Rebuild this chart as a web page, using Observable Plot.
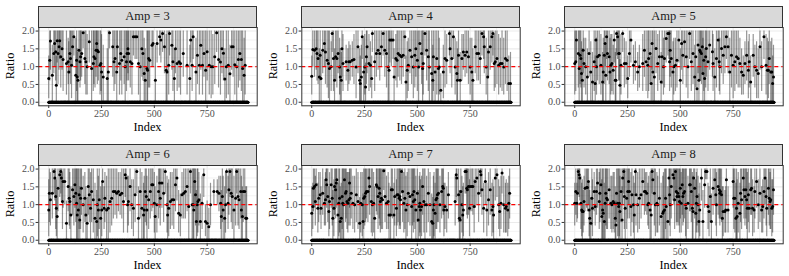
<!DOCTYPE html>
<html><head><meta charset="utf-8">
<script src="https://cdn.jsdelivr.net/npm/d3@7"></script>
<script src="https://cdn.jsdelivr.net/npm/@observablehq/plot@0.6"></script>
<style>
body{margin:0;background:#fff}
#wrap{position:relative;width:789px;height:276px;font-family:"Liberation Serif",serif;background:#fff;overflow:hidden}
.cell{position:absolute;width:263px;height:138px}
.cell svg{position:absolute;left:0;top:0}
.strip{position:absolute;left:38.3px;top:6px;width:218.4px;height:21.5px;background:#d9d9d9;border:1px solid #333;box-sizing:border-box;text-align:center;font-size:12.5px;line-height:19.5px;color:#1a1a1a}
.xt{position:absolute;left:0;width:263px;padding-left:38px;padding-right:6px;box-sizing:border-box;top:120px;text-align:center;font-size:12.3px;color:#000}
.yt{position:absolute;left:4px;top:66px;font-size:12.3px;color:#000;transform:translate(-50%,-50%) rotate(-90deg);transform-origin:center;margin-left:6px;white-space:nowrap}
</style></head>
<body><div id="wrap"></div>
<script>
// ---- data: [index, ratio, lower, upper] for non-zero ratios; every other index has ratio 0
const ampLevels = [3,4,5,6,7,8];
const lastIndex = 943;
const xTicks = [0,250,500,750];
const xMinor = [125,375,625,875];
const yTicks = [0,0.5,1,1.5,2];
const yMinor = [0.25,0.75,1.25,1.75];
const refRatio = 1;

const amp3 = [[0,0.67,0.1,1.3],[5,1.18,0.6,2],[8,1.72,0.9,2],[17,0.76,0,1.6],[24,1.37,0.8,2],[28,1.65,1.0,2],[33,1.42,0.6,2],[36,0.48,0,1.3],[40,1.73,1.1,2],[44,1.37,0.5,2],[49,1.56,0.9,2],[52,1.73,1.2,2],[57,1.28,0.4,2],[63,1.5,0.9,2],[68,1.2,0.3,2],[84,1.09,0.2,2],[92,1.14,0.5,1.8],[95,0.85,0,1.7],[100,1.37,0.8,2],[103,1.23,0.5,2],[108,1.04,0.1,2],[113,1.56,1.0,2],[119,1.84,1.3,2],[128,0.76,0,1.8],[132,1.18,0.3,2],[135,0.71,0,1.5],[138,0.62,0,1.4],[143,1.46,0.7,2],[148,1.14,0.4,2],[151,1.28,0.6,2],[156,1.37,0.7,2],[163,1.95,1.5,2],[171,1.23,0.5,2],[176,1.14,0.2,2],[182,1.0,0.2,1.9],[192,1.7,1.1,2],[203,0.95,0,2],[211,1.09,0.3,2],[214,1.28,0.5,2],[219,1.23,0.4,2],[224,1.46,0.7,2],[227,1.65,1.0,2],[230,1.46,0.5,2],[235,1.42,0.6,2],[243,1.04,0.2,2],[247,1.09,0.3,2],[250,0.85,0,1.9],[258,0.71,0,1.6],[277,0.67,0,1.5],[282,0.85,0,2],[288,1.95,1.5,2],[303,1.56,0.7,2],[309,1.14,0.3,2],[314,1.23,0.5,2],[322,0.85,0,2],[325,1.56,0.9,2],[335,1.09,0.2,2],[341,1.37,0.6,2],[346,1.18,0.2,2],[357,1.28,0.5,2],[362,1.0,0,2],[368,1.14,0.3,2],[371,1.37,0.6,2],[375,1.5,0.8,2],[378,1.37,0.6,2],[386,1.14,0.4,2],[394,1.09,0.2,2],[401,1.84,1.3,2],[409,1.84,1.2,2],[417,1.84,1.2,2],[425,1.09,0.2,2],[433,1.0,0,2],[441,1.5,0.7,2],[446,1.37,0.6,2],[452,0.81,0,1.8],[457,0.62,0,1.5],[465,0.95,0,2],[468,0.9,0,2],[473,1.23,0.4,2],[478,1.18,0.4,2],[489,1.6,1.0,2],[494,1.65,1.0,2],[505,0.62,0,1.6],[513,1.65,1.1,2],[525,1.84,1.3,2],[531,1.75,1.1,2],[539,1.93,1.4,2],[548,1.56,0.8,2],[556,0.9,0,1.9],[560,0.85,0,2],[568,1.04,0.2,2],[572,1.93,1.3,2],[583,1.6,0.9,2],[588,1.14,0.3,2],[595,0.67,0,1.5],[600,1.5,0.8,2],[608,1.09,0.3,2],[617,1.14,0.4,2],[624,1.09,0.2,2],[637,1.37,0.7,2],[655,1.04,0.2,2],[668,0.67,0,1.6],[672,1.75,1.1,2],[679,1.04,0.3,2],[684,1.84,1.2,2],[697,0.85,0,1.8],[704,1.32,0.5,2],[713,1.04,0.2,2],[720,1.6,0.9,2],[728,1.04,0.2,2],[735,1.37,0.7,2],[743,0.9,0,2],[750,1.42,0.6,2],[760,1.04,0.2,2],[769,1.0,0.1,2],[777,1.0,0.2,1.9],[786,1.28,0.5,2],[795,1.95,1.4,2],[804,1.2,0.4,2],[813,1.13,0.2,2],[820,1.5,0.8,2],[827,1.38,0.6,2],[834,0.65,0,1.5],[841,1.0,0.1,2],[850,1.04,0.2,2],[858,0.8,0,1.6],[866,1.56,0.9,2],[873,1.56,0.7,2],[881,1.05,0.2,2],[890,1.0,0,2],[898,1.2,0.4,2],[905,1.37,0.6,2],[912,1.2,0.3,2],[918,0.95,0,2],[925,0.76,0,1.8],[930,1.04,0.2,2]];

const amp4 = [[0,0.73,0.2,1.3],[5,1.48,1.0,2],[13,1.46,0.7,2],[21,1.5,0.9,2],[25,1.37,0.6,2],[30,1.23,0.5,2],[36,0.71,0,1.5],[40,1.32,0.6,2],[44,0.67,0,1.4],[52,1.46,0.8,2],[60,1.65,1.0,2],[65,1.41,0.5,2],[73,1.18,0.4,2],[79,1.09,0.1,2],[84,0.95,0,2],[92,1.0,0.3,1.7],[97,1.93,1.4,2],[103,1.23,0.3,2],[108,0.62,0,1.5],[113,1.28,0.6,2],[119,1.23,0.4,2],[125,1.37,0.8,2],[132,0.99,0.2,1.8],[135,0.71,0,1.5],[140,0.62,0,1.4],[143,1.5,0.7,2],[148,1.09,0.3,1.9],[163,1.14,0.6,1.6],[171,0.9,0.3,1.5],[176,1.14,0.5,1.7],[182,1.14,0.6,1.6],[192,1.18,0.7,1.7],[200,1.2,0.5,1.9],[210,0.99,0.1,2],[219,1.56,0.8,2],[227,0.62,0,1.5],[230,0.53,0,1.3],[235,0.71,0,1.6],[239,1.84,1.2,2],[246,0.85,0,1.8],[251,0.99,0.2,1.9],[255,0.43,0,1.1],[259,1.28,0.5,2],[262,1.56,0.8,2],[271,1.09,0.3,1.9],[278,1.04,0.4,1.7],[284,0.67,0.1,1.3],[287,1.93,1.4,2],[298,1.14,0.3,2],[306,1.37,0.7,2],[314,1.46,0.9,2],[322,1.37,0.6,2],[330,1.56,1.0,2],[338,1.93,1.3,2],[346,1.46,0.7,2],[354,1.37,0.4,2],[362,0.99,0,2],[366,0.9,0,2],[370,1.75,1.1,2],[377,1.75,1.0,2],[385,1.75,1.2,2],[390,0.71,0,1.5],[398,1.23,0.6,1.9],[404,1.18,0.4,2],[409,1.37,0.7,2],[417,1.32,0.6,2],[425,1.28,0.5,2],[433,1.32,0.7,2],[441,1.84,1.2,2],[446,0.57,0,1.3],[452,0.9,0.1,1.7],[457,1.04,0.3,1.8],[465,1.46,0.8,2],[473,1.28,0.5,2],[481,0.99,0.1,2],[488,1.32,0.4,2],[493,1.5,0.7,2],[500,1.18,0.3,2],[506,0.99,0,2],[512,1.65,1.0,2],[520,1.37,0.5,2],[525,0.95,0,2],[528,1.09,0.2,2],[536,1.93,1.3,2],[544,1.46,0.6,2],[552,1.28,0.3,2],[557,0.99,0,2],[568,0.81,0,2],[573,0.62,0,1.6],[576,1.28,0.3,2],[584,0.85,0,2],[592,1.23,0.2,2],[600,0.95,0,2],[604,0.99,0.2,1.8],[611,0.34,0,0.8],[623,0.85,0.1,1.6],[631,1.23,0.4,2],[639,1.18,0.5,1.9],[652,1.93,1.3,2],[655,1.5,0.8,2],[663,1.23,0.4,2],[671,1.84,1.2,2],[679,0.99,0.2,1.8],[687,0.81,0,1.7],[690,0.62,0,1.5],[695,1.32,0.6,2],[703,0.62,0,1.4],[711,1.23,0.6,1.9],[718,1.41,0.9,1.9],[726,1.32,0.7,2],[734,1.41,0.8,2],[742,1.28,0.5,2],[750,0.99,0.2,1.8],[758,0.85,0,1.8],[763,0.62,0,1.5],[774,1.56,0.8,2],[782,1.37,0.6,2],[790,1.37,0.6,2],[798,1.23,0.5,2],[806,1.93,1.3,2],[814,1.84,1.2,2],[817,1.56,0.8,2],[826,0.99,0.2,1.8],[833,0.71,0,1.5],[837,1.41,0.7,2],[845,1.56,0.9,2],[853,1.84,1.1,2],[858,1.93,1.3,2],[864,1.09,0.3,1.9],[869,1.14,0.4,2],[877,1.23,0.5,2],[885,1.04,0.2,1.9],[893,1.09,0.4,1.8],[901,1.09,0.3,2],[909,0.99,0.2,1.8],[917,1.23,0.5,2],[925,1.18,0.3,2],[933,0.53,0,1.3],[941,0.53,0,1.4]];

const amp5 = [[0,1.09,0.2,2],[5,1.14,0.3,2],[8,1.75,1.1,2],[17,1.37,0.4,2],[21,0.95,0,2],[25,1.32,0.5,2],[29,1.23,0.4,2],[32,0.81,0,1.7],[36,0.62,0,1.5],[40,1.46,0.8,2],[44,1.09,0.4,1.8],[52,1.0,0.2,1.8],[60,0.71,0,1.5],[68,1.37,0.7,2],[76,0.85,0,1.7],[84,0.57,0,1.4],[92,1.14,0.3,2],[97,0.53,0,1.3],[100,1.75,1.0,2],[103,1.0,0.2,1.8],[108,1.28,0.6,2],[116,1.32,0.5,2],[124,1.04,0.2,1.9],[132,0.57,0,1.4],[135,0.85,0,1.8],[140,1.32,0.5,2],[144,1.65,1.0,2],[147,0.76,0,1.6],[151,1.84,1.2,2],[155,1.37,0.6,2],[163,1.28,0.5,2],[167,0.85,0,1.8],[171,1.04,0.2,1.9],[176,1.09,0.3,1.9],[182,0.9,0.2,1.6],[187,1.75,1.1,2],[192,0.62,0,1.4],[195,0.62,0,1.5],[198,1.93,1.3,2],[203,1.84,1.2,2],[208,1.37,0.6,2],[211,1.37,0.6,2],[214,0.48,0,1.2],[219,1.04,0.2,1.9],[227,1.93,1.4,2],[235,1.09,0.4,1.8],[243,1.09,0.5,1.7],[251,0.67,0.1,1.3],[259,1.37,0.7,2],[266,1.75,1.1,2],[278,1.04,0.5,1.6],[287,1.14,0.6,1.7],[298,0.85,0.3,1.4],[306,1.0,0.4,1.6],[322,1.09,0.3,1.9],[330,1.46,0.7,2],[338,1.14,0.3,2],[346,1.04,0.1,2],[350,1.23,0.3,2],[357,1.37,0.5,2],[362,0.53,0,1.3],[366,1.65,0.9,2],[370,0.85,0,2],[377,0.71,0,2],[385,1.51,0.8,2],[393,1.09,0.3,1.9],[401,1.28,0.6,2],[409,0.57,0,1.4],[414,1.28,0.5,2],[420,1.0,0.2,1.8],[425,1.23,0.4,2],[433,1.79,1.1,2],[441,1.93,1.3,2],[446,1.93,1.2,2],[449,1.14,0.3,2],[452,1.46,0.7,2],[457,1.23,0.4,2],[465,0.85,0,1.7],[469,1.0,0.2,1.8],[477,1.04,0.3,1.8],[484,1.18,0.4,2],[493,1.75,1.1,2],[500,0.62,0,1.5],[506,1.65,0.9,2],[512,1.32,0.5,2],[520,1.7,1.0,2],[528,1.28,0.4,2],[536,1.0,0.1,2],[544,1.93,1.2,2],[552,1.14,0.3,2],[560,1.37,0.5,2],[568,0.71,0,1.6],[573,1.28,0.4,2],[579,0.38,0,1.0],[584,1.61,0.8,2],[588,0.62,0,1.5],[592,1.46,0.6,2],[595,1.42,0.6,2],[600,1.37,0.5,2],[604,1.56,0.8,2],[607,0.81,0,1.8],[611,1.18,0.3,2],[615,0.67,0,1.5],[620,1.28,0.4,2],[623,1.51,0.7,2],[631,1.14,0.3,2],[639,1.61,0.9,2],[652,1.42,0.7,2],[655,1.09,0.3,1.9],[663,0.71,0,1.5],[671,1.23,0.4,2],[679,1.75,1.0,2],[684,1.14,0.3,2],[687,1.0,0.2,1.8],[695,1.51,0.8,2],[703,1.32,0.5,2],[711,1.56,0.8,2],[718,1.84,1.2,2],[726,1.56,0.8,2],[734,0.85,0,1.8],[742,1.32,0.4,2],[750,1.04,0.1,2],[758,1.14,0.3,2],[766,1.28,0.5,2],[774,1.23,0.4,2],[782,1.09,0.4,1.8],[790,0.85,0.2,1.5],[798,0.76,0.2,1.3],[806,1.09,0.5,1.7],[814,1.32,0.6,2],[822,0.9,0.1,1.7],[826,1.14,0.4,1.9],[833,0.57,0,1.3],[845,1.32,0.7,1.9],[853,1.0,0.4,1.6],[861,0.9,0.1,1.7],[869,0.81,0.1,1.5],[877,1.56,0.9,2],[885,1.0,0.3,1.7],[896,1.84,1.2,2],[906,1.04,0.2,1.9],[912,0.9,0,1.8],[917,0.9,0.1,1.7],[921,1.23,0.5,2],[928,0.85,0,1.7],[933,0.85,0,1.8],[937,0.53,0,1.3],[941,0.71,0,1.6]];

const amp6 = [[0,0.85,0.1,1.7],[3,1.32,0.5,2],[8,1.14,0.4,1.9],[17,1.32,0.6,2],[25,1.93,1.3,2],[29,1.75,1.1,2],[33,1.23,0.3,2],[36,0.9,0.1,1.7],[40,0.67,0,1.4],[44,1.46,0.8,2],[52,1.84,1.2,2],[57,1.93,1.3,2],[60,1.75,1.1,2],[65,1.09,0.3,1.9],[68,1.65,0.9,2],[76,1.65,1.0,2],[84,0.48,0,1.1],[92,1.51,0.8,2],[97,1.18,0.4,2],[100,1.09,0.3,1.9],[105,0.71,0,1.5],[113,1.42,0.7,2],[119,1.23,0.4,2],[124,1.56,0.9,2],[128,1.32,0.5,2],[132,1.04,0,2],[135,0.71,0,2],[140,0.85,0,2],[144,1.28,0.3,2],[147,0.57,0,1.5],[151,1.18,0.3,2],[155,1.46,0.7,2],[163,1.0,0.2,1.8],[171,1.18,0.5,1.9],[176,0.71,0,1.5],[182,0.48,0,1.2],[187,1.51,0.7,2],[192,1.28,0.5,2],[198,0.9,0,1.9],[203,1.37,0.5,2],[211,1.14,0.2,2],[219,0.62,0,1.6],[227,0.53,0,1.4],[230,1.0,0.1,2],[235,0.85,0,1.8],[239,1.14,0.3,2],[246,0.62,0,1.5],[251,0.85,0.1,1.6],[255,1.65,0.9,2],[262,0.9,0.3,1.5],[266,1.18,0.5,1.9],[274,0.85,0,1.8],[282,0.9,0,2],[290,1.09,0.2,2],[298,1.18,0.4,2],[306,1.37,0.6,2],[314,1.37,0.7,2],[322,1.32,0.6,2],[330,1.37,0.8,1.9],[338,1.28,0.7,1.9],[346,1.32,0.6,2],[354,1.09,0.2,2],[362,1.84,1.2,2],[366,1.75,1.1,2],[373,1.0,0.2,1.8],[377,1.09,0.4,1.8],[385,1.51,0.8,2],[393,1.0,0.3,1.7],[401,0.9,0.1,1.7],[409,1.28,0.5,2],[417,1.93,1.3,2],[425,0.62,0,1.5],[433,1.37,0.6,2],[441,0.9,0,1.9],[449,0.71,0,1.6],[452,0.85,0,1.8],[457,1.37,0.5,2],[462,1.23,0.4,2],[465,0.85,0,1.8],[473,1.14,0.3,2],[481,1.37,0.6,2],[488,1.56,0.8,2],[493,1.56,0.9,2],[500,1.04,0.2,1.9],[504,0.67,0,1.5],[512,1.0,0.2,1.8],[520,1.37,0.6,2],[525,1.61,0.9,2],[528,1.18,0.4,2],[536,1.61,0.9,2],[544,1.32,0.5,2],[552,1.93,1.3,2],[560,1.0,0.2,1.8],[563,0.71,0,1.6],[568,0.9,0.1,1.7],[576,1.09,0.3,1.9],[584,1.14,0.4,1.9],[592,1.14,0.3,2],[600,1.56,0.8,2],[607,1.75,1.1,2],[615,0.76,0.2,1.4],[623,0.71,0.1,1.3],[631,1.28,0.6,1.9],[639,1.32,0.6,2],[647,1.37,0.6,2],[655,1.51,0.8,2],[663,0.95,0,2],[671,1.93,1.3,2],[679,1.0,0,2],[684,1.0,0,2],[687,0.85,0,2],[691,1.65,0.9,2],[695,1.28,0.4,2],[699,0.53,0,1.4],[703,1.0,0.1,2],[706,1.09,0.2,2],[711,1.14,0.4,1.9],[718,0.53,0,1.3],[726,1.04,0.3,1.8],[734,1.84,1.2,2],[742,0.53,0.1,1.0],[750,0.48,0,1.1],[758,0.38,0,0.9],[766,1.0,0.4,1.6],[782,1.37,1.0,1.7],[798,1.37,1.0,1.7],[806,1.32,0.8,1.8],[814,1.04,0.3,1.8],[817,0.67,0,1.4],[822,1.23,0.5,2],[826,0.85,0,1.8],[833,0.62,0,1.5],[837,1.0,0.2,1.9],[842,1.93,1.3,2],[849,1.04,0.3,1.8],[853,1.42,0.7,2],[858,1.93,1.2,2],[864,1.32,0.5,2],[869,1.23,0.3,2],[877,0.85,0,1.8],[885,1.18,0.4,2],[890,1.93,1.3,2],[896,1.23,0.4,2],[901,1.14,0.3,2],[909,1.37,0.6,2],[912,0.85,0,1.8],[917,0.67,0,1.5],[921,1.37,0.5,2],[928,1.37,0.6,2],[933,0.62,0,1.5],[937,0.62,0,1.5]];

const amp7 = [[0,0.76,0.1,1.5],[5,0.95,0.3,1.6],[8,1.46,0.8,2],[13,1.51,0.9,2],[17,1.09,0.4,1.8],[21,1.56,1.0,2],[29,0.9,0.2,1.6],[33,1.18,0.5,1.9],[40,1.28,0.7,1.9],[44,0.9,0.3,1.5],[52,1.32,0.7,2],[60,1.04,0.4,1.7],[65,1.14,0.4,1.9],[68,1.7,1.1,2],[71,1.56,0.9,2],[76,1.23,0.5,2],[81,0.81,0.1,1.5],[84,1.09,0.3,1.9],[92,1.56,0.9,2],[97,1.18,0.4,2],[100,0.62,0,1.4],[105,0.9,0.1,1.7],[108,1.51,0.7,2],[113,1.42,0.6,2],[116,1.61,0.9,2],[119,1.7,1.0,2],[124,0.71,0,1.6],[128,1.04,0.1,2],[132,1.18,0.2,2],[135,0.53,0,1.5],[140,0.62,0,1.6],[144,1.23,0.3,2],[147,1.04,0,2],[151,1.0,0,2],[155,1.7,1.0,2],[160,1.32,0.5,2],[163,1.37,0.6,2],[167,1.09,0.3,1.9],[171,1.04,0.2,1.9],[176,1.14,0.4,1.9],[179,1.61,0.9,2],[182,1.18,0.4,2],[187,1.32,0.6,2],[195,1.04,0.3,1.8],[203,1.0,0.2,1.8],[211,1.28,0.5,2],[219,1.09,0.3,1.9],[227,0.48,0,1.2],[232,1.04,0.2,1.9],[239,1.0,0.1,1.9],[243,0.53,0,1.3],[246,1.18,0.3,2],[251,1.23,0.4,2],[255,1.32,0.5,2],[259,1.37,0.6,2],[266,1.37,0.5,2],[271,1.75,1.0,2],[274,1.51,0.7,2],[282,1.09,0.2,2],[287,1.0,0.1,2],[293,1.04,0.2,1.9],[298,0.62,0,1.5],[306,1.56,0.8,2],[309,1.51,0.7,2],[314,1.23,0.3,2],[319,1.46,0.6,2],[322,1.32,0.4,2],[325,1.09,0.2,2],[330,1.18,0.3,2],[335,1.14,0.3,2],[341,1.95,1.4,2],[347,1.23,0.5,2],[354,1.04,0.3,1.8],[362,1.09,0.3,1.9],[366,0.71,0,1.6],[373,0.71,0,1.5],[377,1.42,0.7,2],[382,1.42,0.6,2],[389,0.71,0,1.6],[393,1.23,0.4,2],[401,0.9,0.1,1.7],[404,1.28,0.4,2],[409,1.28,0.5,2],[414,1.18,0.3,2],[417,1.23,0.4,2],[420,1.14,0.3,2],[425,1.93,1.3,2],[430,1.37,0.5,2],[436,1.04,0.2,1.9],[441,1.18,0.3,2],[446,0.85,0,1.8],[452,1.0,0.1,1.9],[457,1.32,0.5,2],[465,1.23,0.4,2],[473,0.95,0,2],[477,1.28,0.4,2],[481,1.09,0.2,2],[484,1.37,0.5,2],[488,1.14,0.3,2],[493,0.85,0,1.8],[500,1.32,0.5,2],[504,0.57,0,1.4],[509,0.95,0.1,1.8],[512,1.04,0.2,1.9],[515,0.85,0,1.7],[520,0.95,0.1,1.8],[525,1.51,0.7,2],[531,1.09,0.2,2],[536,1.0,0,2],[544,1.0,0.2,1.8],[552,1.32,0.5,2],[560,1.0,0.1,1.9],[568,0.53,0,1.3],[573,0.48,0,1.2],[576,0.85,0,1.8],[579,1.0,0.1,1.9],[584,0.76,0,1.6],[588,1.14,0.3,2],[592,1.18,0.3,2],[595,1.28,0.5,2],[600,1.32,0.5,2],[607,1.0,0.2,1.8],[615,1.37,0.6,2],[620,1.51,0.8,2],[623,1.46,0.7,2],[626,0.85,0.1,1.6],[631,0.95,0.3,1.6],[639,0.85,0.2,1.5],[647,1.28,0.6,1.9],[679,1.09,0.4,1.8],[684,1.84,1.2,2],[687,1.75,1.1,2],[695,1.28,0.5,2],[699,0.62,0,1.4],[703,0.57,0,1.4],[706,1.37,0.6,2],[711,1.0,0.2,1.8],[715,0.71,0,1.5],[718,0.85,0.1,1.6],[726,1.93,1.3,2],[731,1.93,1.3,2],[734,1.46,0.7,2],[737,1.42,0.6,2],[742,1.51,0.7,2],[747,0.9,0.1,1.7],[750,1.51,0.8,2],[758,1.51,0.8,2],[763,1.51,0.7,2],[769,0.95,0.2,1.7],[774,1.65,0.9,2],[782,1.75,1.0,2],[790,1.32,0.5,2],[798,1.93,1.3,2],[801,1.84,1.2,2],[806,1.42,0.7,2],[814,0.9,0.2,1.6],[822,1.65,1.0,2],[829,0.85,0.1,1.6],[837,1.14,0.4,1.9],[845,1.42,0.7,2],[853,0.85,0.1,1.6],[858,0.95,0.2,1.7],[861,0.71,0,1.5],[869,1.75,1.1,2],[877,1.84,1.2,2],[885,1.0,0.3,1.7],[890,0.81,0.1,1.5],[896,1.04,0.3,1.8],[901,1.89,1.3,2],[909,1.0,0.2,1.8],[917,0.9,0.2,1.6],[921,0.95,0.2,1.7],[928,0.85,0.1,1.6],[933,1.04,0.3,1.8],[937,1.32,0.6,2]];

const amp8 = [[0,1.04,0.4,1.6],[5,1.37,0.7,2],[10,1.04,0.5,1.6],[13,1.32,0.6,2],[17,1.93,1.3,2],[21,1.84,1.2,2],[24,1.75,1.1,2],[29,1.04,0.3,1.8],[33,0.85,0.1,1.6],[36,0.81,0,1.7],[40,0.81,0.2,1.4],[44,1.09,0.4,1.8],[49,1.46,0.8,2],[56,1.48,0.9,2],[60,1.48,0.8,2],[65,1.65,1.0,2],[68,0.85,0.1,1.6],[71,0.62,0,1.4],[76,0.48,0,1.2],[81,1.18,0.4,2],[84,0.9,0.1,1.7],[92,1.37,0.8,1.9],[97,0.95,0.4,1.5],[103,1.37,0.7,2],[108,1.61,0.9,2],[116,1.09,0.3,1.9],[119,1.32,0.5,2],[124,1.56,0.7,2],[128,0.67,0,1.7],[132,0.85,0,2],[135,0.76,0,2],[140,0.53,0,1.6],[144,1.04,0,2],[147,1.32,0.4,2],[151,1.18,0.3,2],[155,1.14,0.3,2],[163,1.42,0.6,2],[171,1.04,0.3,1.8],[176,1.0,0.2,1.8],[182,1.09,0.3,1.9],[187,1.04,0.2,1.9],[192,0.62,0,1.5],[195,0.43,0,1.1],[198,1.32,0.5,2],[203,1.04,0.1,2],[208,0.95,0,2],[211,1.04,0.1,2],[214,0.81,0,1.8],[219,1.37,0.5,2],[224,0.57,0,1.5],[227,1.75,1.0,2],[232,1.93,1.3,2],[235,1.23,0.3,2],[239,0.9,0,2],[246,1.18,0.3,2],[251,1.37,0.6,2],[255,1.65,1.0,2],[259,1.37,0.6,2],[266,0.95,0.1,1.9],[271,1.28,0.5,2],[278,1.0,0.2,1.8],[282,0.71,0,1.6],[287,1.93,1.3,2],[290,1.28,0.4,2],[298,1.0,0.2,1.9],[306,1.18,0.3,2],[314,1.28,0.6,2],[322,1.65,1.0,2],[330,1.37,0.7,2],[335,1.37,0.8,1.9],[341,1.32,0.7,1.9],[346,1.0,0.4,1.6],[350,1.04,0.3,1.8],[357,0.85,0,1.9],[362,0.71,0,2],[366,1.93,1.3,2],[370,1.7,1.0,2],[377,1.32,0.4,2],[382,1.0,0.1,2],[389,1.04,0.2,1.9],[393,1.0,0.2,1.8],[401,1.18,0.4,2],[409,0.67,0,1.6],[417,0.76,0,1.8],[420,0.81,0,1.9],[425,0.85,0,2],[430,1.18,0.3,2],[433,0.95,0,2],[441,0.53,0,1.5],[446,1.75,1.0,2],[449,1.28,0.4,2],[452,1.0,0.1,2],[457,1.51,0.6,2],[465,1.84,1.1,2],[469,1.75,1.0,2],[473,1.14,0.3,2],[477,1.93,1.3,2],[481,1.37,0.5,2],[484,1.23,0.4,2],[488,1.32,0.5,2],[493,1.23,0.4,2],[496,1.09,0.2,2],[500,1.46,0.6,2],[504,1.04,0.2,1.9],[509,1.56,0.7,2],[512,1.23,0.4,2],[515,1.32,0.5,2],[520,1.37,0.6,2],[525,1.0,0.1,2],[528,0.9,0,2],[536,1.04,0.3,1.8],[544,1.56,0.8,2],[547,1.56,0.8,2],[552,1.37,0.5,2],[557,0.9,0,1.9],[560,0.81,0,1.8],[563,1.75,1.0,2],[568,1.46,0.6,2],[573,0.76,0,1.7],[576,1.04,0.2,1.9],[579,1.23,0.4,2],[584,1.0,0.2,1.8],[588,0.53,0,1.3],[592,0.85,0.1,1.6],[600,1.75,1.1,2],[607,0.53,0,1.4],[615,1.56,0.9,2],[620,1.93,1.7,2],[626,1.93,1.7,2],[631,0.95,0.3,1.6],[636,0.81,0.1,1.5],[642,1.23,0.5,2],[647,0.53,0,1.3],[655,1.46,0.7,2],[663,1.7,1.0,2],[668,1.28,0.4,2],[671,1.0,0.1,1.9],[679,1.51,0.7,2],[684,1.42,0.6,2],[687,1.32,0.4,2],[690,1.37,0.6,2],[695,1.28,0.5,2],[699,0.62,0,1.5],[703,0.81,0.1,1.5],[711,0.81,0.2,1.4],[715,0.85,0.2,1.5],[718,1.7,1.0,2],[726,0.85,0.2,1.5],[750,1.65,0.9,2],[753,1.18,0.3,2],[758,1.18,0.2,2],[763,0.62,0,1.6],[766,0.9,0,2],[769,0.67,0,1.7],[774,1.04,0.2,1.9],[782,0.76,0,1.6],[785,1.32,0.5,2],[790,1.14,0.3,2],[798,1.75,1.0,2],[801,1.42,0.6,2],[806,1.23,0.4,2],[810,1.42,0.6,2],[814,1.14,0.3,2],[817,0.9,0,1.9],[822,1.28,0.5,2],[826,0.9,0.2,1.6],[833,1.42,0.7,2],[837,1.46,0.7,2],[842,0.9,0.1,1.7],[849,0.85,0.2,1.5],[853,1.37,0.6,2],[861,1.65,0.9,2],[869,1.0,0.3,1.7],[877,1.32,0.5,2],[885,0.85,0.2,1.5],[890,0.95,0.2,1.7],[896,1.37,0.6,2],[901,1.75,1.0,2],[906,1.23,0.4,2],[909,0.9,0.1,1.7],[917,1.46,0.7,2],[921,1.18,0.4,2],[925,1.09,0.3,1.9],[928,1.14,0.3,2],[933,0.9,0.1,1.7],[937,0.95,0.2,1.7],[941,1.42,0.7,2]];

const panelsData = [amp3, amp4, amp5, amp6, amp7, amp8];

function panel(data) {
  const nonZero = new Set(data.map(d => d[0]));
  const zeros = d3.range(0, lastIndex + 1).filter(i => !nonZero.has(i));
  return Plot.plot({
    width: 263, height: 138,
    marginLeft: 38.3, marginRight: 6.3, marginTop: 27, marginBottom: 32.7,
    x: {domain: [-47, 987]},
    y: {domain: [-0.1, 2.1]},
    style: {fontFamily: "Liberation Serif", fontSize: "10px", background: "transparent", overflow: "visible"},
    marks: [
      Plot.ruleY(yMinor, {stroke: "#ebebeb", strokeWidth: 0.6}),
      Plot.ruleX(xMinor, {stroke: "#ebebeb", strokeWidth: 0.6}),
      Plot.ruleY(yTicks, {stroke: "#ebebeb", strokeWidth: 1.1}),
      Plot.ruleX(xTicks, {stroke: "#ebebeb", strokeWidth: 1.1}),
      Plot.ruleX(data, {x: d => d[0], y1: d => d[2], y2: d => d[3], stroke: "#000", strokeOpacity: 0.42, strokeWidth: 1.2}),
      Plot.dot(zeros, {x: d => d, y: () => 0, r: 1.6, fill: "#000", stroke: "none"}),
      Plot.dot(data, {x: d => d[0], y: d => d[1], r: 1.5, fill: "#000", stroke: "none"}),
      Plot.ruleY([refRatio], {stroke: "#ff0000", strokeWidth: 1.3, strokeDasharray: "4,3"}),
      Plot.frame({stroke: "#333", strokeWidth: 1}),
      Plot.axisX({ticks: xTicks, tickSize: 2.7, tickPadding: 1.5, stroke: "#333", fill: "#4d4d4d", label: null, fontSize: 10}),
      Plot.axisY({ticks: yTicks, tickSize: 2.7, tickPadding: 1.5, stroke: "#333", fill: "#4d4d4d", label: null, fontSize: 10, tickFormat: d3.format(".1f")})
    ]
  });
}

const wrap = document.getElementById("wrap");
ampLevels.forEach((amp, k) => {
  const col = k % 3, row = Math.floor(k / 3);
  const cell = document.createElement("div");
  cell.className = "cell";
  cell.style.left = (col * 263) + "px";
  cell.style.top = (row * 138) + "px";
  cell.appendChild(panel(panelsData[k]));
  const strip = document.createElement("div");
  strip.className = "strip";
  strip.textContent = "Amp = " + amp;
  cell.appendChild(strip);
  const xt = document.createElement("div");
  xt.className = "xt"; xt.textContent = "Index";
  cell.appendChild(xt);
  const yt = document.createElement("div");
  yt.className = "yt"; yt.textContent = "Ratio";
  cell.appendChild(yt);
  wrap.appendChild(cell);
});
</script></body></html>
